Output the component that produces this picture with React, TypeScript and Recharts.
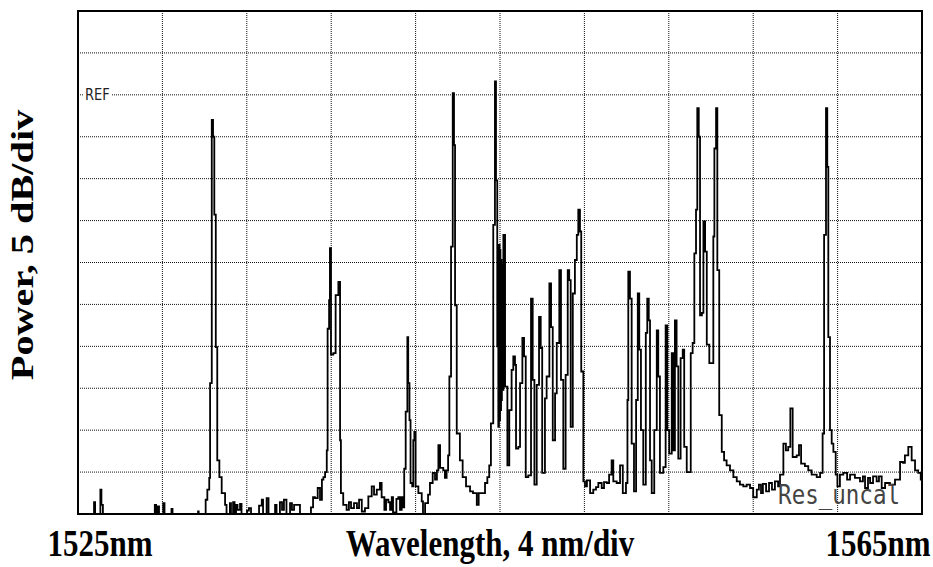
import React from 'react';
import { LineChart, Line, XAxis, YAxis, CartesianGrid, ReferenceArea, ReferenceDot } from 'recharts';

// OSA trace (wavelength in nm, power in dB rel. REF)
const WAVELENGTH_NM = [
    1525.00, 1525.71, 1525.76, 1525.81, 1526.02, 1526.06, 1526.11, 1526.18, 1528.60, 1528.64,
    1528.70, 1528.77, 1528.84, 1529.01, 1529.04, 1529.10, 1529.41, 1529.43, 1529.48, 1530.66,
    1530.69, 1530.72, 1531.00, 1531.05, 1531.13, 1531.22, 1531.26, 1531.34, 1531.40, 1531.46,
    1531.53, 1531.60, 1531.70, 1531.81, 1531.97, 1532.04, 1532.16, 1532.20, 1532.25, 1532.35,
    1532.42, 1532.49, 1532.56, 1532.68, 1532.75, 1533.01, 1533.10, 1533.20, 1533.53, 1533.58,
    1533.71, 1533.77, 1533.94, 1534.03, 1534.29, 1534.34, 1534.41, 1534.57, 1534.67, 1534.76,
    1534.88, 1535.05, 1535.14, 1535.24, 1535.38, 1535.52, 1535.95, 1536.04, 1536.14, 1536.23,
    1536.36, 1536.47, 1536.56, 1536.63, 1536.71, 1536.79, 1536.83, 1536.90, 1536.94, 1536.99,
    1537.10, 1537.21, 1537.34, 1537.42, 1537.46, 1537.57, 1537.73, 1537.84, 1537.94, 1538.08,
    1538.22, 1538.32, 1538.45, 1538.60, 1538.76, 1538.92, 1539.03, 1539.16, 1539.31, 1539.39,
    1539.52, 1539.60, 1539.71, 1539.79, 1539.87, 1539.93, 1540.02, 1540.09, 1540.18, 1540.26,
    1540.34, 1540.40, 1540.46, 1540.53, 1540.61, 1540.65, 1540.71, 1540.76, 1540.84, 1540.89,
    1540.94, 1541.00, 1541.13, 1541.29, 1541.35, 1541.45, 1541.59, 1541.68, 1541.81, 1541.92,
    1542.01, 1542.08, 1542.16, 1542.31, 1542.39, 1542.47, 1542.54, 1542.60, 1542.68, 1542.76,
    1542.82, 1542.87, 1542.95, 1543.10, 1543.23, 1543.39, 1543.58, 1543.72, 1543.82, 1543.90,
    1543.99, 1544.13, 1544.29, 1544.40, 1544.49, 1544.57, 1544.68, 1544.76, 1544.81, 1544.87,
    1544.92, 1544.95, 1544.98, 1545.00, 1545.02, 1545.05, 1545.07, 1545.09, 1545.12, 1545.16,
    1545.24, 1545.35, 1545.44, 1545.55, 1545.63, 1545.71, 1545.76, 1545.87, 1545.95, 1546.06,
    1546.14, 1546.22, 1546.34, 1546.47, 1546.55, 1546.63, 1546.74, 1546.85, 1546.93, 1547.00,
    1547.13, 1547.21, 1547.34, 1547.42, 1547.50, 1547.61, 1547.69, 1547.81, 1547.89, 1548.00,
    1548.11, 1548.21, 1548.28, 1548.35, 1548.45, 1548.55, 1548.64, 1548.71, 1548.79, 1548.85,
    1548.95, 1549.03, 1549.12, 1549.27, 1549.42, 1549.55, 1549.66, 1549.82, 1549.93, 1550.06,
    1550.17, 1550.29, 1550.37, 1550.53, 1550.69, 1550.82, 1550.97, 1551.04, 1551.08, 1551.16,
    1551.24, 1551.35, 1551.45, 1551.53, 1551.60, 1551.68, 1551.79, 1551.91, 1551.98, 1552.05,
    1552.11, 1552.19, 1552.31, 1552.43, 1552.50, 1552.58, 1552.74, 1552.85, 1552.93, 1553.02,
    1553.14, 1553.21, 1553.29, 1553.37, 1553.45, 1553.56, 1553.66, 1553.73, 1553.85, 1553.97,
    1554.04, 1554.13, 1554.21, 1554.29, 1554.35, 1554.42, 1554.48, 1554.57, 1554.64, 1554.72,
    1554.80, 1554.92, 1555.03, 1555.11, 1555.16, 1555.24, 1555.30, 1555.39, 1555.51, 1555.62,
    1555.74, 1555.90, 1556.06, 1556.22, 1556.37, 1556.53, 1556.69, 1556.85, 1557.00, 1557.17,
    1557.27, 1557.37, 1557.46, 1557.61, 1557.75, 1557.89, 1558.03, 1558.18, 1558.27, 1558.43,
    1558.55, 1558.66, 1558.76, 1558.87, 1559.06, 1559.17, 1559.27, 1559.45, 1559.61, 1559.77,
    1560.01, 1560.17, 1560.29, 1560.36, 1560.45, 1560.51, 1560.56, 1560.64, 1560.72, 1560.80,
    1560.91, 1560.99, 1561.11, 1561.27, 1561.45, 1561.59, 1561.82, 1562.06, 1562.20, 1562.30,
    1562.44, 1562.54, 1562.68, 1562.85, 1562.96, 1563.09, 1563.25, 1563.48, 1563.72, 1563.96,
    1564.10, 1564.19, 1564.35, 1564.51, 1564.67, 1564.82, 1564.94, 1565.00,
];

const POWER_DB = [
    -50, -50, -48.6, -50, -50, -47.1, -48.9, -50, -50, -48.9,
    -50, -49.1, -50, -50, -48.7, -50, -50, -49.4, -50, -50,
    -49.7, -50, -50, -48.3, -47.1, -45.7, -34.4, -3.0, -5.0, -14.3,
    -30.1, -43.6, -45.6, -47.5, -48.9, -50, -50, -48.7, -50, -48.6,
    -50, -48.9, -49.5, -48.8, -50, -49.6, -49.3, -50, -50, -49.0,
    -48.3, -50, -48.1, -50, -50, -48.9, -50, -48.6, -49.5, -48.3,
    -50, -48.7, -49.5, -48.9, -48.9, -50, -50, -49.2, -48.0, -48.1,
    -46.9, -48.3, -45.9, -45.6, -45.0, -42.4, -27.9, -24.5, -18.3, -31.0,
    -30.8, -23.9, -22.3, -41.2, -47.5, -48.9, -49.5, -48.6, -49.3, -48.7,
    -49.3, -48.3, -49.7, -49.3, -47.9, -46.7, -47.7, -47.1, -46.3, -48.0,
    -49.5, -48.3, -48.6, -49.5, -48.0, -49.8, -49.8, -48.2, -48.0, -49.5,
    -48.0, -49.2, -44.6, -37.8, -28.9, -34.4, -38.8, -46.3, -46.7, -41.2,
    -40.2, -46.7, -47.5, -48.5, -50, -48.7, -47.7, -46.3, -45.1, -45.9,
    -44.8, -41.8, -44.5, -44.8, -45.7, -44.8, -43.0, -33.6, -18.1, 0.2,
    -6.0, -25.1, -40.4, -43.6, -45.6, -46.7, -47.3, -47.5, -47.5, -48.9,
    -47.5, -47.5, -46.3, -45.6, -44.2, -39.2, -15.5, 1.6, -10.2, -30.0,
    -39.6, -17.9, -38.8, -18.5, -37.6, -19.7, -36.4, -20.3, -35.2, -16.7,
    -34.8, -44.2, -37.6, -32.8, -31.2, -32.2, -42.2, -42.0, -34.4, -29.0,
    -31.2, -45.6, -45.4, -24.3, -34.0, -46.5, -34.6, -26.5, -30.2, -45.1,
    -36.2, -33.6, -22.5, -27.7, -41.2, -35.6, -29.6, -20.9, -34.0, -44.6,
    -33.4, -20.9, -22.1, -39.6, -23.7, -19.7, -16.7, -13.7, -16.3, -33.0,
    -46.1, -46.7, -46.0, -47.5, -47.1, -46.8, -46.3, -46.9, -46.2, -46.3,
    -45.3, -43.6, -46.1, -46.3, -44.2, -47.5, -46.3, -36.4, -21.1, -24.3,
    -41.6, -47.3, -36.4, -23.7, -30.4, -40.0, -46.5, -28.4, -24.3, -26.9,
    -43.6, -47.5, -40.0, -28.1, -33.6, -45.1, -44.4, -27.5, -40.0, -42.8,
    -30.8, -42.4, -26.9, -32.4, -43.4, -31.4, -30.4, -42.0, -45.0, -45.0,
    -30.8, -29.6, -18.9, -13.7, -1.6, -5.0, -26.3, -26.0, -15.1, -18.7,
    -29.8, -32.0, -32.0, -16.9, -6.4, -1.6, -20.9, -38.2, -42.6, -43.6,
    -44.2, -44.8, -45.6, -46.1, -46.5, -46.7, -46.5, -46.9, -48.0, -47.1,
    -46.5, -47.5, -46.4, -47.3, -46.3, -47.1, -46.1, -46.7, -45.3, -41.6,
    -42.4, -42.0, -37.4, -43.2, -43.0, -41.8, -44.0, -44.3, -44.8, -45.3,
    -45.6, -45.1, -40.4, -16.7, -1.6, -8.6, -28.9, -40.0, -41.6, -42.6,
    -45.3, -46.7, -45.3, -45.1, -45.9, -45.3, -45.7, -46.1, -45.5, -46.9,
    -45.7, -46.3, -45.5, -46.1, -45.5, -46.9, -46.3, -46.5, -45.9, -43.8,
    -43.9, -43.0, -42.0, -43.6, -44.8, -45.1, -45.9, -47.0,
];

const X_TICKS = [1525, 1529, 1533, 1537, 1541, 1545, 1549, 1553, 1557, 1561, 1565];
const Y_TICKS = [-50, -45, -40, -35, -30, -25, -20, -15, -10, -5, 0, 5, 10];
const REF_LEVEL = 0;

const data = WAVELENGTH_NM.map((wl, i) => ({ wl, db: POWER_DB[i] }));

const titleFont = '"Liberation Serif", "Times New Roman", serif';

const App: React.FC = () => {
    return (
        <div style={{ position: 'absolute', left: 0, top: 0, width: 933, height: 567, background: '#fff' }}>
            <LineChart width={933} height={567} data={data} margin={{ top: 11, right: 11, bottom: 53, left: 78 }}>
                <XAxis dataKey="wl" type="number" domain={[1525, 1565]} ticks={X_TICKS} hide />
                <YAxis type="number" domain={[-50, 10]} ticks={Y_TICKS} hide allowDataOverflow />
                <CartesianGrid stroke="#111" strokeWidth={1} strokeDasharray="1 1" />
                <Line
                    type="stepAfter"
                    dataKey="db"
                    stroke="#000"
                    strokeWidth={1.8}
                    dot={false}
                    isAnimationActive={false}
                />
                <ReferenceArea x1={1525} x2={1565} y1={-50} y2={10} fill="none" stroke="#000" strokeWidth={2} ifOverflow="visible" />
                <ReferenceDot
                    x={1525}
                    y={REF_LEVEL}
                    r={0}
                    ifOverflow="visible"
                    shape={(p: any) => (
                        <g transform={`translate(${p.cx + 7} ${p.cy + 5}) scale(1 1.2)`}>
                            <rect x={-1} y={-10} width={27} height={10} fill="#fff" />
                            <text x={0} y={0} fontSize={13} fontFamily="DejaVu Sans" fill="#222">REF</text>
                        </g>
                    )}
                />
                <ReferenceDot
                    x={1558.18}
                    y={-48.8}
                    r={0}
                    ifOverflow="visible"
                    shape={(p: any) => (
                        <g transform={`translate(${p.cx} ${p.cy}) scale(1 1.2)`}>
                            <text x={0} y={0} fontSize={22.5} fontFamily="DejaVu Sans Mono" fill="#444">Res_uncal</text>
                        </g>
                    )}
                />
            </LineChart>
            <svg width={933} height={567} style={{ position: 'absolute', left: 0, top: 0, pointerEvents: 'none' }}>
                <g fontFamily={titleFont} fontWeight="bold" fontSize={31} fill="#000" textAnchor="middle">
                    <text transform="translate(100 556) scale(1 1.2)">1525nm</text>
                    <text transform="translate(490 556) scale(1 1.2)">Wavelength, 4 nm/div</text>
                    <text transform="translate(878 556) scale(1 1.2)">1565nm</text>
                    <text transform="translate(33 245) scale(1 1.3) rotate(-90)">Power, 5 dB/div</text>
                </g>
            </svg>
        </div>
    );
};

export default App;
